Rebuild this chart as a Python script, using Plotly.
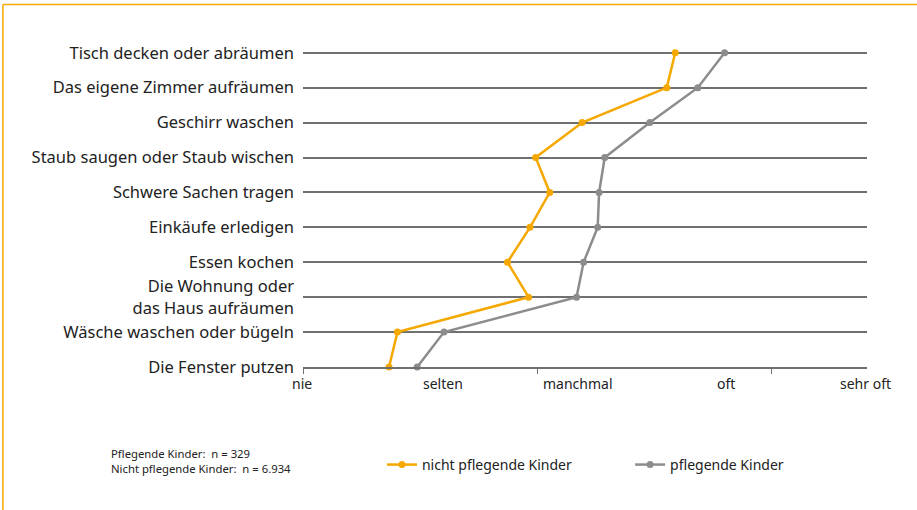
import plotly.graph_objects as go

categories = [
    "Die Fenster putzen",
    "Wäsche waschen oder bügeln",
    "Die Wohnung oder<br>das Haus aufräumen",
    "Essen kochen",
    "Einkäufe erledigen",
    "Schwere Sachen tragen",
    "Staub saugen oder Staub wischen",
    "Geschirr waschen",
    "Das eigene Zimmer aufräumen",
    "Tisch decken oder abräumen",
]
nicht_pflegend = [1.61, 1.67, 2.60, 2.45, 2.61, 2.75, 2.65, 2.98, 3.58, 3.64]
pflegend = [1.81, 2.00, 2.94, 2.99, 3.09, 3.10, 3.14, 3.46, 3.80, 3.99]

scale_labels = ["nie", "selten", "manchmal", "oft", "sehr oft"]
scale_label_pos = [0.99, 1.99, 2.95, 4.0, 4.99]
tick_pos = [1, 2.66, 4.32]
X_MIN, X_MAX = 1, 5

ORANGE = "#F5A800"
GRAY = "#8C8C8C"
GRID = "#707070"
TEXT = "#222222"
FONT = "Noto Sans"

ypos = list(range(len(categories)))

fig = go.Figure()
fig.add_trace(go.Scatter(
    x=nicht_pflegend, y=ypos, mode="lines+markers", name="nicht pflegende Kinder",
    line=dict(color=ORANGE, width=2.5), marker=dict(color=ORANGE, size=7),
    cliponaxis=False, legend="legend",
))
fig.add_trace(go.Scatter(
    x=pflegend, y=ypos, mode="lines+markers", name="pflegende Kinder",
    line=dict(color=GRAY, width=2.5), marker=dict(color=GRAY, size=7),
    cliponaxis=False, legend="legend2",
))

annotations = []
for lab, p in zip(scale_labels, scale_label_pos):
    annotations.append(dict(
        x=(p - X_MIN) / (X_MAX - X_MIN), y=0, xref="paper", yref="paper", yshift=-16,
        text=lab, showarrow=False,
        font=dict(family=FONT, size=14, color=TEXT), xanchor="center", yanchor="middle",
    ))
annotations.append(dict(
    x=-0.344, y=-0.297, xref="paper", yref="paper", xanchor="left", yanchor="middle", align="left",
    text="Pflegende Kinder:  n = 329<br>Nicht pflegende Kinder:  n = 6.934",
    showarrow=False, font=dict(family=FONT, size=11.3, color=TEXT),
))

fig.update_layout(
    width=917, height=510,
    margin=dict(l=303, r=50, t=51, b=143),
    paper_bgcolor="white", plot_bgcolor="white",
    font=dict(family=FONT, size=16, color=TEXT),
    xaxis=dict(range=[X_MIN, X_MAX], tickvals=tick_pos, showticklabels=False, ticks="outside",
               ticklen=5, tickcolor=GRID, tickwidth=1, showgrid=False, zeroline=False,
               showline=True, linecolor=GRID, linewidth=1.5),
    yaxis=dict(range=[0, 9.05], tickvals=ypos, ticktext=categories, showgrid=True,
               gridcolor=GRID, gridwidth=1.5, zeroline=False, ticks="",
               ticklabelstandoff=8, tickfont=dict(family=FONT, size=16.5, color=TEXT)),
    showlegend=True,
    legend=dict(x=0.14, y=-0.31, xanchor="left", yanchor="middle", orientation="h",
                font=dict(family=FONT, size=14, color=TEXT), bgcolor="rgba(0,0,0,0)"),
    legend2=dict(x=0.58, y=-0.31, xanchor="left", yanchor="middle", orientation="h",
                 font=dict(family=FONT, size=14, color=TEXT), bgcolor="rgba(0,0,0,0)"),
    annotations=annotations,
    shapes=[
        dict(type="line", xref="paper", yref="paper", x0=-0.532, x1=1.1, y0=1.147, y1=1.147,
             line=dict(color=ORANGE, width=1.5)),
        dict(type="line", xref="paper", yref="paper", x0=-0.532, x1=-0.532, y0=1.147, y1=-0.46,
             line=dict(color=ORANGE, width=1.5)),
    ],
)

fig.write_html("out.html", config={"displayModeBar": False},
               post_script="document.body.style.margin='0';")
